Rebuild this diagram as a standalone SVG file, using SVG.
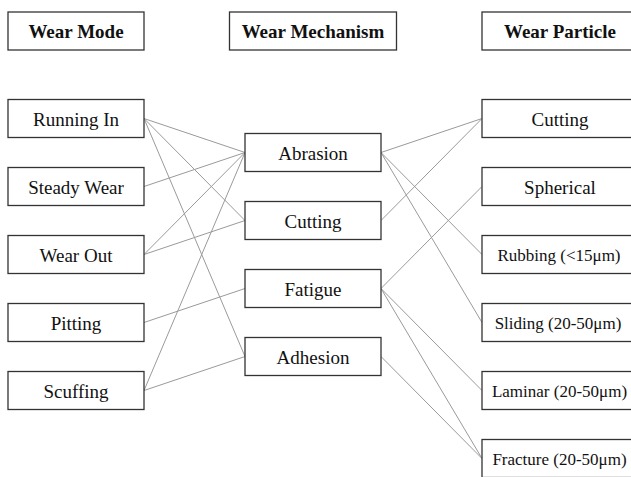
<svg xmlns="http://www.w3.org/2000/svg" width="631" height="477" viewBox="0 0 631 477">
<style>
.box{fill:#fff;stroke:#333;stroke-width:1.3}
.t{font-family:"Liberation Serif","Times New Roman",serif;font-size:19px;fill:#111;text-anchor:middle}
.h{font-weight:bold}
.s{font-size:17px}
.c{stroke:#9a9a9a;stroke-width:1;fill:none}
</style>
<rect width="631" height="477" fill="#fff"/>
<g id="connectors" class="c">
<line x1="144" y1="118.5" x2="245" y2="152.5"/>
<line x1="144" y1="118.5" x2="245" y2="220.5"/>
<line x1="144" y1="118.5" x2="245" y2="356.5"/>
<line x1="144" y1="186.5" x2="245" y2="152.5"/>
<line x1="144" y1="254.5" x2="245" y2="152.5"/>
<line x1="144" y1="254.5" x2="245" y2="220.5"/>
<line x1="144" y1="322.5" x2="245" y2="288.5"/>
<line x1="144" y1="390.5" x2="245" y2="152.5"/>
<line x1="144" y1="390.5" x2="245" y2="356.5"/>
<line x1="381" y1="152.5" x2="482" y2="118.5"/>
<line x1="381" y1="152.5" x2="482" y2="254.5"/>
<line x1="381" y1="152.5" x2="482" y2="322.5"/>
<line x1="381" y1="220.5" x2="482" y2="118.5"/>
<line x1="381" y1="288.5" x2="482" y2="186.5"/>
<line x1="381" y1="288.5" x2="482" y2="390.5"/>
<line x1="381" y1="288.5" x2="482" y2="458.5"/>
<line x1="381" y1="356.5" x2="482" y2="458.5"/>
</g>
<g id="h-mode"><rect class="box" x="8" y="12" width="136" height="38"/><text class="t h" x="76" y="37.5">Wear Mode</text></g>
<g id="h-mech"><rect class="box" x="229.5" y="12" width="167" height="38"/><text class="t h" x="313" y="37.5">Wear Mechanism</text></g>
<g id="h-part"><rect class="box" x="482" y="12" width="156" height="38"/><text class="t h" x="560" y="37.5">Wear Particle</text></g>

<g id="running-in"><rect class="box" x="8" y="99.5" width="136" height="38"/><text class="t" x="76" y="125.5">Running In</text></g>
<g id="steady-wear"><rect class="box" x="8" y="167.5" width="136" height="38"/><text class="t" x="76" y="193.5">Steady Wear</text></g>
<g id="wear-out"><rect class="box" x="8" y="235.5" width="136" height="38"/><text class="t" x="76" y="261.5">Wear Out</text></g>
<g id="pitting"><rect class="box" x="8" y="303.5" width="136" height="38"/><text class="t" x="76" y="329.5">Pitting</text></g>
<g id="scuffing"><rect class="box" x="8" y="371.5" width="136" height="38"/><text class="t" x="76" y="397.5">Scuffing</text></g>

<g id="abrasion"><rect class="box" x="245" y="133.5" width="136" height="38"/><text class="t" x="313" y="159.5">Abrasion</text></g>
<g id="cutting-mech"><rect class="box" x="245" y="201.5" width="136" height="38"/><text class="t" x="313" y="227.5">Cutting</text></g>
<g id="fatigue"><rect class="box" x="245" y="269.5" width="136" height="38"/><text class="t" x="313" y="295.5">Fatigue</text></g>
<g id="adhesion"><rect class="box" x="245" y="337.5" width="136" height="38"/><text class="t" x="313" y="363.5">Adhesion</text></g>

<g id="cutting-part"><rect class="box" x="482" y="99.5" width="156" height="38"/><text class="t" x="560" y="125.5">Cutting</text></g>
<g id="spherical"><rect class="box" x="482" y="167.5" width="156" height="38"/><text class="t" x="560" y="193.5">Spherical</text></g>
<g id="rubbing"><rect class="box" x="482" y="235.5" width="156" height="38"/><text class="t s" x="559" y="261">Rubbing (&lt;15μm)</text></g>
<g id="sliding"><rect class="box" x="482" y="303.5" width="156" height="38"/><text class="t s" x="558" y="329">Sliding (20-50μm)</text></g>
<g id="laminar"><rect class="box" x="482" y="371.5" width="156" height="38"/><text class="t s" x="559.5" y="397">Laminar (20-50μm)</text></g>
<g id="fracture"><rect class="box" x="482" y="439.5" width="156" height="38"/><text class="t s" x="559.5" y="465">Fracture (20-50μm)</text></g>
</svg>
